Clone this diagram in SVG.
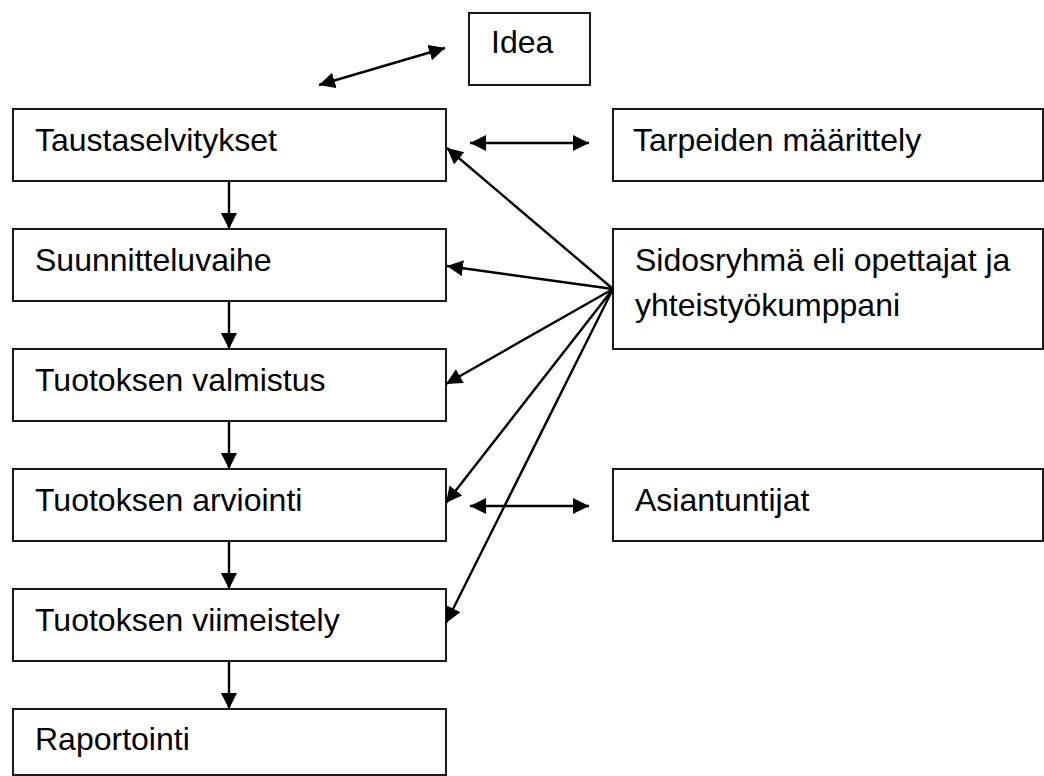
<svg xmlns="http://www.w3.org/2000/svg" width="1044" height="776" viewBox="0 0 1044 776">
<style>
.box{fill:#fff;stroke:#1a1a1a;stroke-width:2}
.t{font-family:"Liberation Sans",Arial,sans-serif;font-size:32px;fill:#000}
.c{stroke:#000;stroke-width:2.4;fill:none}
.a{marker-end:url(#ah)}
.d{marker-start:url(#ah);marker-end:url(#ah)}
</style>
<defs>
<marker id="ah" markerUnits="userSpaceOnUse" markerWidth="18" markerHeight="18" refX="16" refY="8" orient="auto-start-reverse">
<path d="M0,0 L16,8 L0,16 z" fill="#000"/>
</marker>
</defs>
<rect width="1044" height="776" fill="#fff"/>
<g id="idea"><rect class="box" x="469" y="13" width="121" height="72"/><text class="t" x="491" y="53">Idea</text></g>
<g id="taustaselvitykset"><rect class="box" x="13" y="109" width="433" height="72"/><text class="t" x="35" y="151">Taustaselvitykset</text></g>
<g id="tarpeiden"><rect class="box" x="613" y="109" width="430" height="72"/><text class="t" x="633" y="151">Tarpeiden määrittely</text></g>
<g id="suunnitteluvaihe"><rect class="box" x="13" y="229" width="433" height="72"/><text class="t" x="35" y="271">Suunnitteluvaihe</text></g>
<g id="sidosryhma"><rect class="box" x="613" y="229" width="430" height="120"/><text class="t" x="635" y="271">Sidosryhmä eli opettajat ja</text><text class="t" x="635" y="316">yhteistyökumppani</text></g>
<g id="valmistus"><rect class="box" x="13" y="349" width="433" height="72"/><text class="t" x="35" y="391">Tuotoksen valmistus</text></g>
<g id="arviointi"><rect class="box" x="13" y="469" width="433" height="72"/><text class="t" x="35" y="511">Tuotoksen arviointi</text></g>
<g id="asiantuntijat"><rect class="box" x="613" y="469" width="430" height="72"/><text class="t" x="635" y="511">Asiantuntijat</text></g>
<g id="viimeistely"><rect class="box" x="13" y="589" width="433" height="72"/><text class="t" x="35" y="631">Tuotoksen viimeistely</text></g>
<g id="raportointi"><rect class="box" x="13" y="709" width="433" height="66"/><text class="t" x="35" y="750">Raportointi</text></g>
<g id="connectors">
<line class="c d" x1="319" y1="85" x2="445" y2="48"/>
<line class="c d" x1="470" y1="143" x2="589" y2="143"/>
<line class="c d" x1="470" y1="506" x2="589" y2="506"/>
<line class="c a" x1="229" y1="181" x2="229" y2="229"/>
<line class="c a" x1="229" y1="301" x2="229" y2="349"/>
<line class="c a" x1="229" y1="421" x2="229" y2="469"/>
<line class="c a" x1="229" y1="541" x2="229" y2="589"/>
<line class="c a" x1="229" y1="661" x2="229" y2="709"/>
<line class="c a" x1="613" y1="289" x2="447" y2="148"/>
<line class="c a" x1="613" y1="289" x2="447" y2="266"/>
<line class="c a" x1="613" y1="289" x2="446" y2="384"/>
<line class="c a" x1="613" y1="289" x2="446" y2="503"/>
<line class="c a" x1="613" y1="289" x2="446" y2="623"/>
</g>
</svg>
